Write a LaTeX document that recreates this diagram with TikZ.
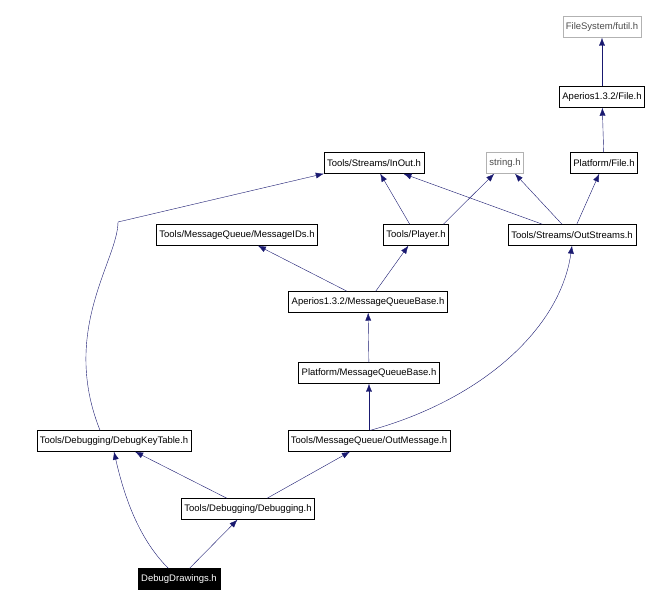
\documentclass[tikz,border=0pt]{standalone}
\usepackage{fontspec}
\setmainfont{Liberation Sans}
\usetikzlibrary{arrows.meta}
\definecolor{edgeblue}{RGB}{25,25,112}
\begin{document}
\begin{tikzpicture}[x=1pt,y=-1pt,
        file/.style={draw=black,fill=white,inner xsep=3pt,inner ysep=0pt,
            minimum height=21pt,font=\fontsize{9.5}{10}\selectfont},
        sysfile/.style={file,draw=gray!60,text=black!70},
        main/.style={file,fill=black,text=white},
        dep/.style={-{Latex[length=8pt,width=6pt]},color=edgeblue}]
\useasboundingbox (0,0) rectangle (667,609);

\node[sysfile] (futil) at (602,27) {FileSystem/futil.h};
\node[file] (aperiosfile) at (602,97) {Aperios1.3.2/File.h};
\node[file] (platfile) at (604,163) {Platform/File.h};
\node[sysfile] (string) at (505,163) {string.h};
\node[file] (inout) at (374,163) {Tools/Streams/InOut.h};
\node[file] (msgids) at (237,235) {Tools/MessageQueue/MessageIDs.h};
\node[file] (player) at (416,235) {Tools/Player.h};
\node[file] (outstreams) at (572,235) {Tools/Streams/OutStreams.h};
\node[file] (aperiosmqb) at (368,302) {Aperios1.3.2/MessageQueueBase.h};
\node[file] (platmqb) at (369,373) {Platform/MessageQueueBase.h};
\node[file] (keytable) at (114,441) {Tools/Debugging/DebugKeyTable.h};
\node[file] (outmsg) at (369,441) {Tools/MessageQueue/OutMessage.h};
\node[file] (debugging) at (248,509) {Tools/Debugging/Debugging.h};
\node[main] (drawings) at (179,579) {DebugDrawings.h};

\draw[dep] (aperiosfile) -- (futil);
\draw[dep] (platfile) -- (aperiosfile);
\draw[dep] (outstreams) -- (inout);
\draw[dep] (outstreams) -- (string);
\draw[dep] (outstreams) -- (platfile);
\draw[dep] (player) -- (inout);
\draw[dep] (player.north west) ++(60,0) -- (string);
\draw[dep] (aperiosmqb) -- (msgids);
\draw[dep] (aperiosmqb) -- (player);
\draw[dep] (platmqb) -- (aperiosmqb);
\draw[dep] (outmsg) -- (platmqb);
\draw[dep] (outmsg.north east) ++(-80,0) .. controls (480,400) and (560,330) .. (outstreams.south);
\draw[dep] (keytable.north) ++(-14,0) .. controls (60,330) and (118,260) .. (118,222) -- (inout.south west);
\draw[dep] (debugging) -- (keytable);
\draw[dep] (debugging) -- (outmsg);
\draw[dep] (drawings) -- (debugging);
\draw[dep] (drawings) .. controls (140,540) and (125,500) .. (keytable.south);
\end{tikzpicture}
\end{document}
